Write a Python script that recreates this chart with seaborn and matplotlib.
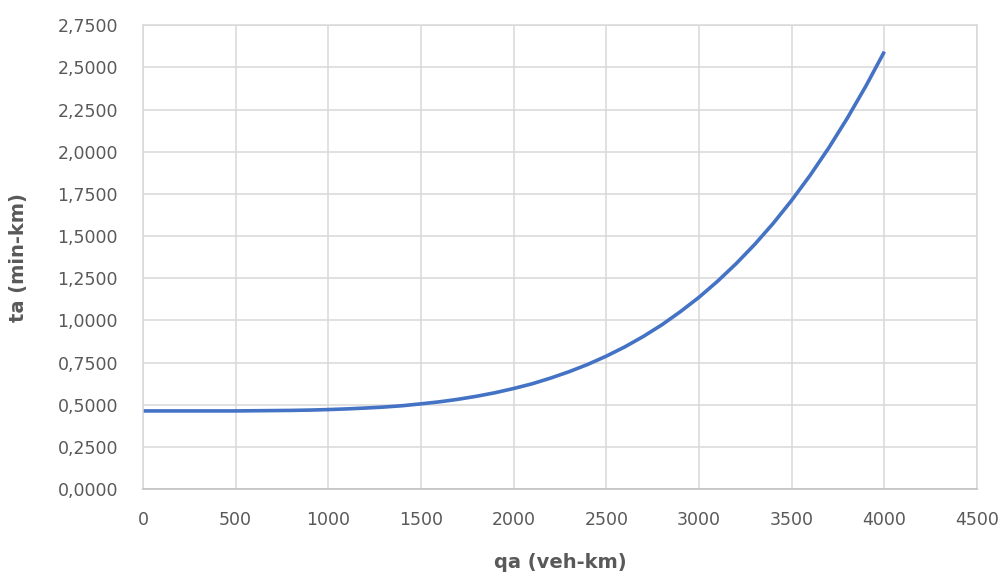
import matplotlib
matplotlib.use("Agg")
import matplotlib.pyplot as plt
from matplotlib.ticker import FuncFormatter, MultipleLocator
import seaborn as sns
import pandas as pd

qa_values = [0, 100, 200, 300, 400, 500, 600, 700, 800, 900,
             1000, 1100, 1200, 1300, 1400, 1500, 1600, 1700, 1800, 1900,
             2000, 2100, 2200, 2300, 2400, 2500, 2600, 2700, 2800, 2900,
             3000, 3100, 3200, 3300, 3400, 3500, 3600, 3700, 3800, 3900, 4000]
ta_values = [0.463, 0.463, 0.463, 0.463, 0.463, 0.463, 0.464, 0.465, 0.466, 0.468,
             0.471, 0.475, 0.480, 0.486, 0.494, 0.505, 0.517, 0.532, 0.550, 0.571,
             0.596, 0.624, 0.658, 0.696, 0.739, 0.788, 0.843, 0.905, 0.974, 1.052,
             1.137, 1.232, 1.336, 1.450, 1.575, 1.712, 1.861, 2.023, 2.199, 2.389,
             2.594]
x_label = "qa (veh-km)"
y_label = "ta (min-km)"

df = pd.DataFrame({"qa": qa_values, "ta": ta_values})

sns.set_style("white")
plt.rcParams['font.family'] = ['DejaVu Sans']

fig = plt.figure(figsize=(10.06, 5.74), dpi=100)
ax = fig.add_axes([0.1421, 0.1481, 0.8291, 0.8078])

sns.lineplot(data=df, x="qa", y="ta", ax=ax, color="#4472C4", linewidth=2.6,
             solid_capstyle="butt")

ax.set_xlim(0, 4500)
ax.set_ylim(0, 2.75)
ax.xaxis.set_major_locator(MultipleLocator(500))
ax.yaxis.set_major_locator(MultipleLocator(0.25))
ax.yaxis.set_major_formatter(FuncFormatter(lambda v, p: f"{v:.4f}".replace(".", ",")))
ax.grid(True, color="#d9d9d9", linewidth=1.1)
ax.set_axisbelow(True)
for s in ax.spines.values():
    s.set_color("#d9d9d9")
    s.set_linewidth(1.1)
ax.spines["bottom"].set_color("#bfbfbf")

ax.tick_params(axis="both", length=0, labelsize=12.5, labelcolor="#595959")
ax.tick_params(axis="x", pad=16)
ax.tick_params(axis="y", pad=18)

ax.set_xlabel(x_label, fontsize=14, fontweight="bold", color="#595959", labelpad=17)
ax.set_ylabel(y_label, fontsize=14, fontweight="bold", color="#595959", labelpad=21)

fig.savefig("out.png", dpi=100, facecolor="white")
